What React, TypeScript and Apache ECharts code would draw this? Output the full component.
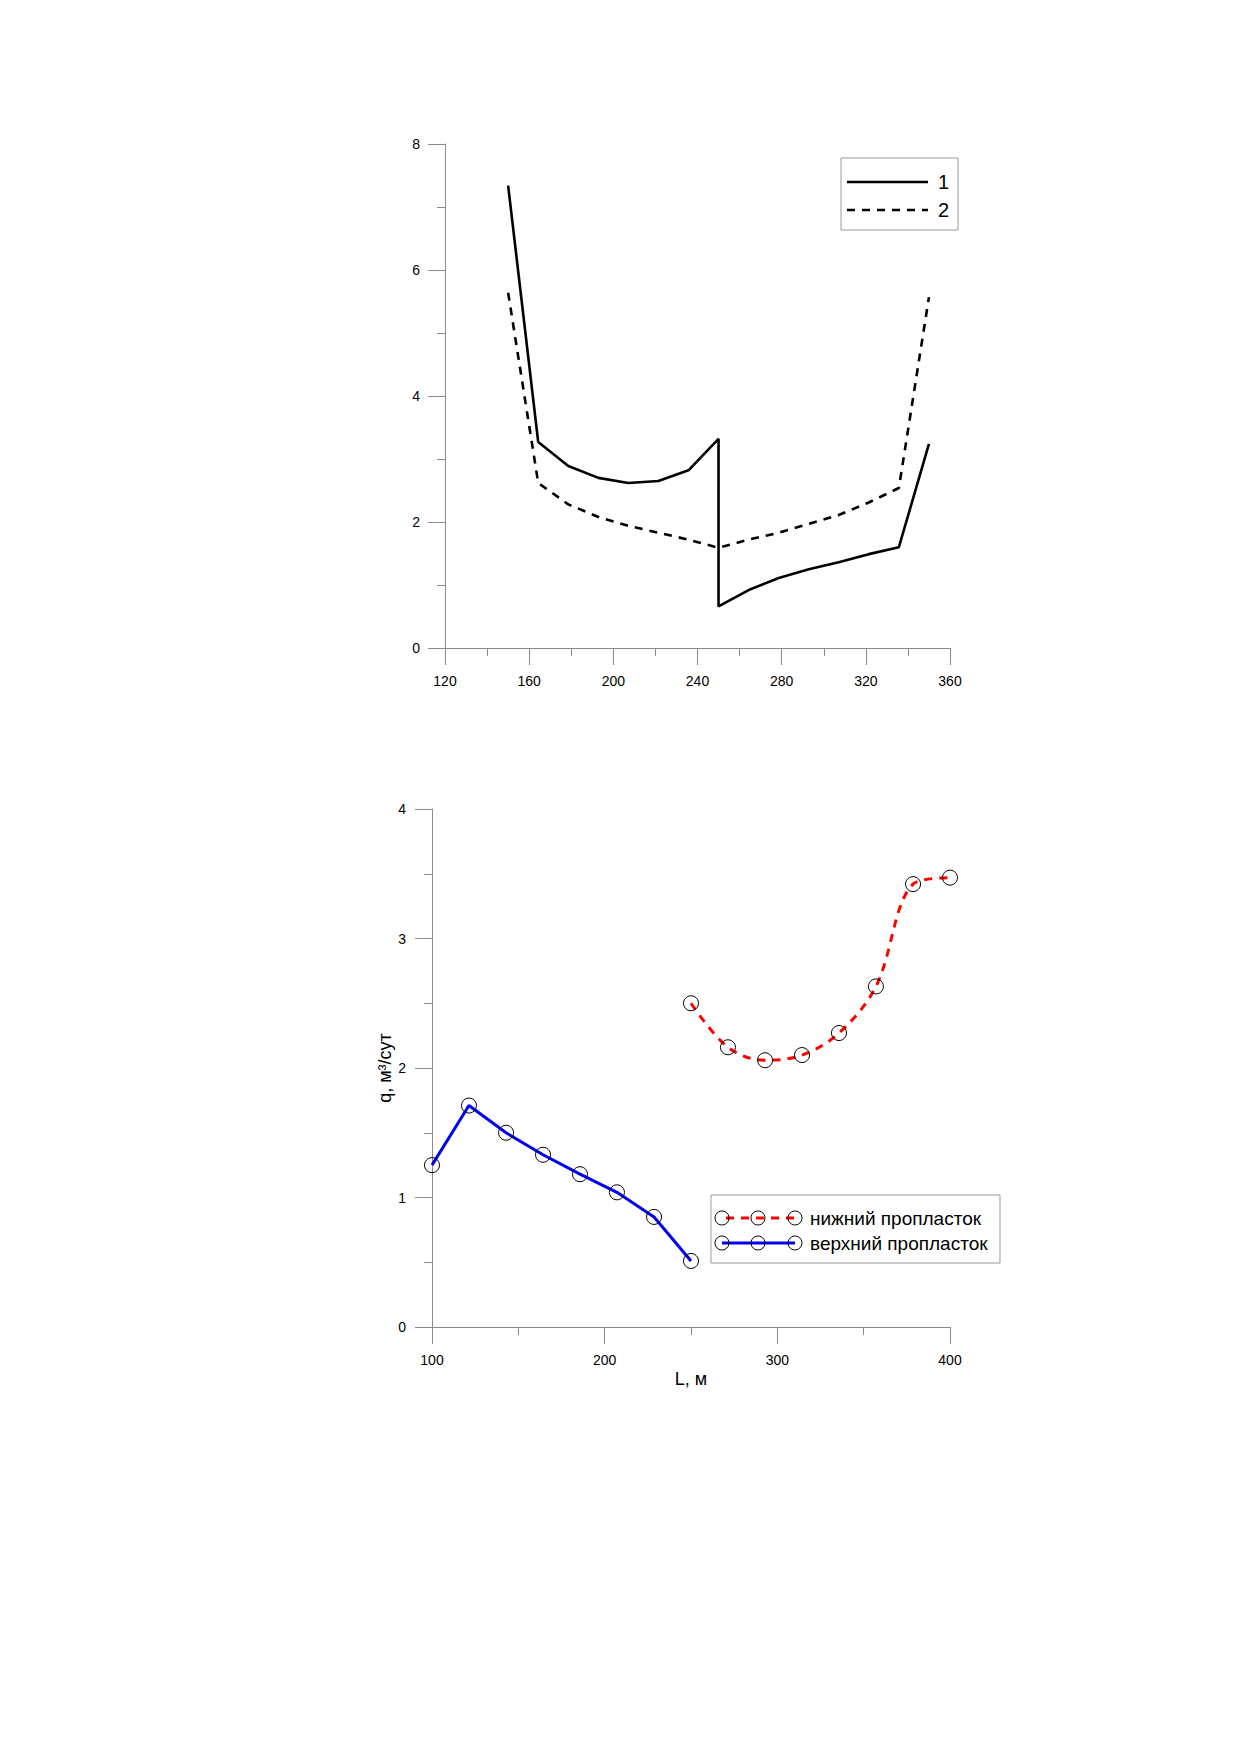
import React, { useEffect, useRef } from "react";
import * as echarts from "echarts";

// ---- Chart 1 data ----
const topX1 = [150, 164.3, 178.6, 192.9, 207.1, 221.4, 235.7, 250, 250, 264.3, 278.6, 292.9, 307.1, 321.4, 335.7, 350];
const topY1 = [7.34, 3.27, 2.89, 2.7, 2.62, 2.65, 2.82, 3.32, 0.66, 0.92, 1.11, 1.25, 1.36, 1.49, 1.6, 3.24];
const topX2 = [150, 164.3, 178.6, 192.9, 207.1, 221.4, 235.7, 250, 264.3, 278.6, 292.9, 307.1, 321.4, 335.7, 350];
const topY2 = [5.64, 2.62, 2.28, 2.08, 1.94, 1.83, 1.72, 1.59, 1.72, 1.83, 1.97, 2.11, 2.31, 2.54, 5.57];
const topLegend = ["1", "2"];

// ---- Chart 2 data ----
const upperX = [100, 121.4, 142.9, 164.3, 185.7, 207.1, 228.6, 250];
const upperY = [1.25, 1.71, 1.5, 1.33, 1.18, 1.04, 0.85, 0.51];
const lowerX = [250, 271.4, 292.9, 314.3, 335.7, 357.1, 378.6, 400];
const lowerY = [2.5, 2.16, 2.06, 2.1, 2.27, 2.63, 3.42, 3.47];
const bottomLegend = ["нижний пропласток", "верхний пропласток"];
const xTitle = "L, м";
const yTitle = "q, м³/сут";

const FONT = "Liberation Sans, Arial, sans-serif";
const AXIS_COLOR = "#8a8a8a";

const zip = (xs: number[], ys: number[]) => xs.map((x, i) => [x, ys[i]]);

function axisBase(min: number, max: number, interval: number, margin: number) {
  return {
    type: "value",
    min,
    max,
    interval,
    axisLine: { show: true, onZero: false, lineStyle: { color: AXIS_COLOR, width: 1 } },
    axisTick: { show: true, inside: false, length: 17, lineStyle: { color: AXIS_COLOR, width: 1 } },
    minorTick: { show: true, splitNumber: 2, length: 8, lineStyle: { color: AXIS_COLOR, width: 1 } },
    splitLine: { show: false },
    minorSplitLine: { show: false },
    axisLabel: { color: "#000", fontSize: 14, fontFamily: FONT, margin },
  };
}

export default function App() {
  const ref = useRef<HTMLDivElement>(null);
  useEffect(() => {
    if (!ref.current) return;
    const chart = echarts.init(ref.current, null, { renderer: "svg" });

    const legend2Circles = (cy: number) =>
      [714, 750, 787].map((cx) => ({
        type: "circle",
        shape: { cx, cy, r: 7 },
        style: { fill: "none", stroke: "#000", lineWidth: 1 },
        z: 102,
      }));

    const option: any = {
      animation: false,
      backgroundColor: "#fff",
      grid: [
        { left: 437, top: 136, width: 505, height: 504 },
        { left: 424, top: 801, width: 518, height: 518 },
      ],
      xAxis: [
        { ...axisBase(120, 360, 40, 26), gridIndex: 0 },
        {
          ...axisBase(100, 400, 100, 26),
          gridIndex: 1,
          name: xTitle,
          nameLocation: "middle",
          nameGap: 43,
          nameTextStyle: { color: "#000", fontSize: 18, fontFamily: FONT },
        },
      ],
      yAxis: [
        { ...axisBase(0, 8, 2, 25), gridIndex: 0 },
        {
          ...axisBase(0, 4, 1, 26),
          gridIndex: 1,
          name: yTitle,
          nameLocation: "middle",
          nameGap: 37,
          nameRotate: 90,
          nameTextStyle: { color: "#000", fontSize: 18, fontFamily: FONT },
        },
      ],
      series: [
        {
          type: "line",
          xAxisIndex: 0,
          yAxisIndex: 0,
          data: zip(topX1, topY1),
          showSymbol: false,
          symbol: "none",
          lineStyle: { color: "#000", width: 2.6, type: "solid" },
        },
        {
          type: "line",
          xAxisIndex: 0,
          yAxisIndex: 0,
          data: zip(topX2, topY2),
          showSymbol: false,
          symbol: "none",
          lineStyle: { color: "#000", width: 2.6, type: [8, 7] },
        },
        {
          type: "line",
          xAxisIndex: 1,
          yAxisIndex: 1,
          data: zip(lowerX, lowerY),
          smooth: 0.35,
          symbol: "circle",
          symbolSize: 15,
          itemStyle: { color: "rgba(0,0,0,0)", borderColor: "#000", borderWidth: 1 },
          lineStyle: { color: "#ff0000", width: 3, type: [8, 7] },
        },
        {
          type: "line",
          xAxisIndex: 1,
          yAxisIndex: 1,
          data: zip(upperX, upperY),
          symbol: "circle",
          symbolSize: 15,
          itemStyle: { color: "rgba(0,0,0,0)", borderColor: "#000", borderWidth: 1 },
          lineStyle: { color: "#0000ee", width: 3, type: "solid" },
        },
      ],
      graphic: [
        // legend chart 1
        {
          type: "rect",
          shape: { x: 833, y: 150, width: 117, height: 72 },
          style: { fill: "#fff", stroke: "#999", lineWidth: 1 },
          z: 100,
        },
        {
          type: "line",
          shape: { x1: 839, y1: 174, x2: 920, y2: 174 },
          style: { stroke: "#000", lineWidth: 2.6 },
          z: 101,
        },
        {
          type: "line",
          shape: { x1: 839, y1: 202, x2: 920, y2: 202 },
          style: { stroke: "#000", lineWidth: 2.6, lineDash: [8, 7] },
          z: 101,
        },
        {
          type: "text",
          x: 930,
          y: 174,
          style: { text: topLegend[0], fontSize: 20, fontFamily: FONT, fill: "#000", verticalAlign: "middle" },
          z: 101,
        },
        {
          type: "text",
          x: 930,
          y: 202,
          style: { text: topLegend[1], fontSize: 20, fontFamily: FONT, fill: "#000", verticalAlign: "middle" },
          z: 101,
        },
        // legend chart 2
        {
          type: "rect",
          shape: { x: 703, y: 1187, width: 289, height: 68 },
          style: { fill: "#fff", stroke: "#999", lineWidth: 1 },
          z: 100,
        },
        {
          type: "line",
          shape: { x1: 714, y1: 1210, x2: 787, y2: 1210 },
          style: { stroke: "#ff0000", lineWidth: 3, lineDash: [8, 7], lineDashOffset: -4 },
          z: 101,
        },
        {
          type: "line",
          shape: { x1: 714, y1: 1235, x2: 787, y2: 1235 },
          style: { stroke: "#0000ee", lineWidth: 3 },
          z: 101,
        },
        ...legend2Circles(1210),
        ...legend2Circles(1235),
        {
          type: "text",
          x: 802,
          y: 1210,
          style: { text: bottomLegend[0], fontSize: 19, fontFamily: FONT, fill: "#000", verticalAlign: "middle" },
          z: 101,
        },
        {
          type: "text",
          x: 802,
          y: 1235,
          style: { text: bottomLegend[1], fontSize: 19, fontFamily: FONT, fill: "#000", verticalAlign: "middle" },
          z: 101,
        },
      ],
    };
    chart.setOption(option);
    return () => chart.dispose();
  }, []);

  return <div ref={ref} style={{ width: 1223, height: 1736 }} />;
}
